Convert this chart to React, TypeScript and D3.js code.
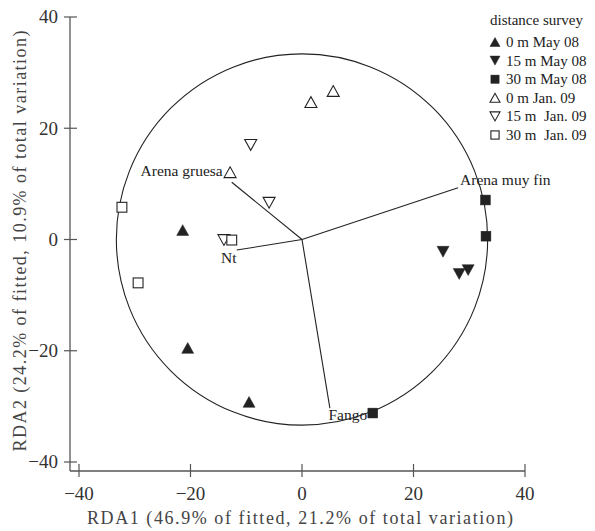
import React from "react";
import * as d3 from "d3";

const xTicks = [-40, -20, 0, 20, 40];
const yTicks = [-40, -20, 0, 20, 40];

const series = [
  { name: "0 m May 08", shape: "up", filled: true },
  { name: "15 m May 08", shape: "down", filled: true },
  { name: "30 m May 08", shape: "square", filled: true },
  { name: "0 m Jan. 09", shape: "up", filled: false },
  { name: "15 m  Jan. 09", shape: "down", filled: false },
  { name: "30 m  Jan. 09", shape: "square", filled: false },
];

const pts0May = [[-21.4, 1.7], [-20.5, -19.5], [-9.5, -29.2]];
const pts15May = [[25.3, -2.2], [28.2, -6.2], [29.8, -5.5]];
const pts30May = [[32.9, 7.1], [33.0, 0.6], [12.7, -31.2]];
const pts0Jan = [[-12.9, 12.1], [1.6, 24.7], [5.6, 26.7]];
const pts15Jan = [[-9.2, 17.0], [-5.9, 6.6], [-14.0, -0.1]];
const pts30Jan = [[-32.3, 5.8], [-29.4, -7.8], [-12.6, -0.1]];
const seriesPoints = [pts0May, pts15May, pts30May, pts0Jan, pts15Jan, pts30Jan];

const vectors = [
  { name: "Arena gruesa", x: -12.6, y: 10.3 },
  { name: "Arena muy fin", x: 28.0, y: 9.3 },
  { name: "Nt", x: -11.7, y: -1.9 },
  { name: "Fango", x: 5.0, y: -30.3 },
];

const circleRadius = 33.3;

const FONT = "'Liberation Serif', 'Times New Roman', serif";
const INK = "#222";
const AXIS = "#555";

function Marker({ shape, filled, cx, cy, size }: { shape: string; filled: boolean; cx: number; cy: number; size: number }) {
  const fill = filled ? INK : "white";
  const stroke = INK;
  const sw = filled ? 0.5 : 1.1;
  const h = size * 0.9;
  const w = size;
  if (shape === "square") {
    const s = size * 0.82;
    return <rect x={cx - s / 2} y={cy - s / 2} width={s} height={s} fill={fill} stroke={stroke} strokeWidth={sw} />;
  }
  if (shape === "up") {
    const p = `${cx - w / 2},${cy + h / 2} ${cx + w / 2},${cy + h / 2} ${cx},${cy - h / 2}`;
    return <polygon points={p} fill={fill} stroke={stroke} strokeWidth={sw} strokeLinejoin="miter" />;
  }
  const p = `${cx - w / 2},${cy - h / 2} ${cx + w / 2},${cy - h / 2} ${cx},${cy + h / 2}`;
  return <polygon points={p} fill={fill} stroke={stroke} strokeWidth={sw} strokeLinejoin="miter" />;
}

export default function App() {
  const W = 595;
  const H = 531;
  const x = d3.scaleLinear().domain([-40, 40]).range([79, 525]);
  const y = d3.scaleLinear().domain([-40, 40]).range([462, 17]);
  const axisX = 70;
  const axisY = 471;
  const rpx = x(circleRadius) - x(0);

  const labelPos: Record<string, { dx: number; dy: number; anchor: string }> = {
    "Arena gruesa": { dx: -9, dy: -6, anchor: "end" },
    "Arena muy fin": { dx: 2, dy: -3, anchor: "start" },
    "Nt": { dx: -8, dy: 13, anchor: "middle" },
    "Fango": { dx: 18, dy: 12, anchor: "middle" },
  };

  const ts = { fontFamily: FONT };

  return (
    <svg width={W} height={H} style={{ display: "block", position: "absolute", left: 0, top: 0 }} fontFamily={FONT}>
      <rect x={0} y={0} width={W} height={H} fill="white" />
      {/* axes */}
      <line x1={axisX} y1={y(40)} x2={axisX} y2={axisY} stroke={AXIS} strokeWidth={1.3} />
      <line x1={axisX} y1={axisY} x2={x(40)} y2={axisY} stroke={AXIS} strokeWidth={1.3} />
      {yTicks.map((t) => (
        <g key={"y" + t}>
          <line x1={axisX - 6} x2={axisX + 7} y1={y(t)} y2={y(t)} stroke={AXIS} strokeWidth={1.2} />
          <text x={58} y={y(t)} dy="0.34em" textAnchor="end" fontSize={19} fill="#333" style={ts}>
            {t < 0 ? "\u2212" + Math.abs(t) : t}
          </text>
        </g>
      ))}
      {xTicks.map((t) => (
        <g key={"x" + t}>
          <line x1={x(t)} x2={x(t)} y1={axisY - 7} y2={axisY + 6} stroke={AXIS} strokeWidth={1.2} />
          <text x={x(t)} y={500} textAnchor="middle" fontSize={19} fill="#333" style={ts}>
            {t < 0 ? "\u2212" + Math.abs(t) : t}
          </text>
        </g>
      ))}
      <text x={300} y={524} textAnchor="middle" fontSize={18} fill="#444" textLength={426} lengthAdjust="spacing" style={ts}>
        RDA1 (46.9% of fitted,  21.2% of total variation)
      </text>
      <text
        transform={`translate(26, 241) rotate(-90)`}
        textAnchor="middle"
        fontSize={18}
        fill="#444"
        textLength={421}
        lengthAdjust="spacing"
        style={ts}
      >
        RDA2 (24.2% of fitted,  10.9% of total variation)
      </text>

      {/* circle */}
      <circle cx={x(0)} cy={y(0)} r={rpx} fill="none" stroke={INK} strokeWidth={1.1} />

      {/* vectors */}
      {vectors.map((v) => (
        <line key={v.name} x1={x(0)} y1={y(0)} x2={x(v.x)} y2={y(v.y)} stroke={INK} strokeWidth={1.1} />
      ))}

      {/* points */}
      {seriesPoints.map((pts, i) =>
        pts.map((p, j) => (
          <Marker key={i + "-" + j} shape={series[i].shape} filled={series[i].filled} cx={x(p[0])} cy={y(p[1])} size={12} />
        ))
      )}

      {/* vector labels */}
      {vectors.map((v) => {
        const lp = labelPos[v.name];
        return (
          <text key={"l" + v.name} x={x(v.x) + lp.dx} y={y(v.y) + lp.dy} textAnchor={lp.anchor} fontSize={15.5} fill={INK} style={ts}>
            {v.name}
          </text>
        );
      })}

      {/* legend */}
      <text x={490} y={25} fontSize={15} fill={INK} style={ts}>distance survey</text>
      {series.map((s, i) => {
        const cy = 42 + i * 18.6;
        return (
          <g key={"leg" + i}>
            <Marker shape={s.shape} filled={s.filled} cx={495} cy={cy} size={10} />
            <text x={506} y={cy + 5} fontSize={15} fill={INK} style={{ whiteSpace: "pre", fontFamily: FONT }}>
              {s.name}
            </text>
          </g>
        );
      })}
    </svg>
  );
}
